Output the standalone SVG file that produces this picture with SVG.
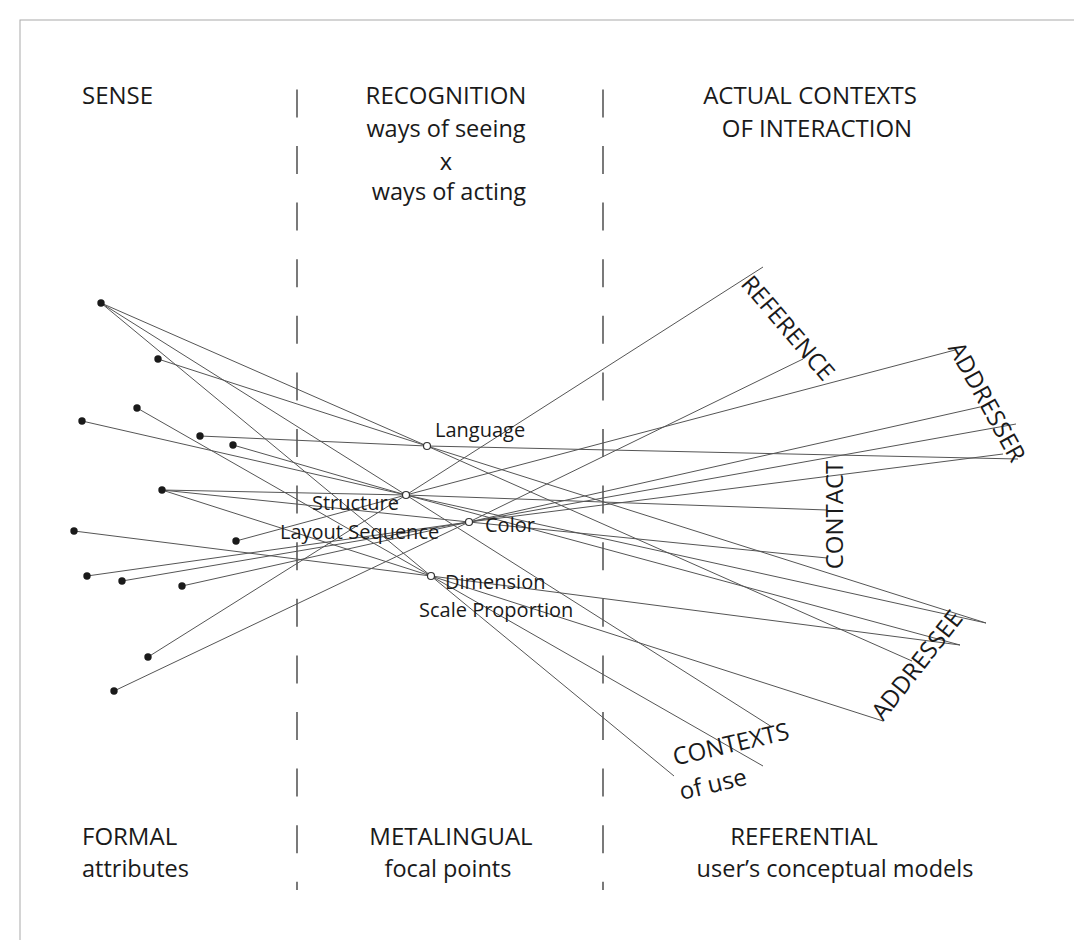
<svg xmlns="http://www.w3.org/2000/svg" width="1074" height="940" viewBox="0 0 1074 940">
<style>
.t{font-family:"Open Sans","Liberation Sans",sans-serif;fill:#1a1a1a}
.h{font-size:24px}
.hl{font-size:23.5px}
.s{font-size:20px}
.ln{stroke:#555;stroke-width:1;fill:none}
.dash{stroke:#333;stroke-width:1.3;stroke-dasharray:28 28.6;fill:none}
.dot{fill:#1a1a1a}
.fp{fill:#fff;stroke:#333;stroke-width:1.2}
</style>
<rect x="0" y="0" width="1074" height="940" fill="#fff"/>
<rect x="20" y="20" width="1080" height="960" fill="none" stroke="#aaa" stroke-width="1"/>
<g id="dividers">
<line class="dash" x1="297" y1="89.4" x2="297" y2="890"/>
<line class="dash" x1="603" y1="89.4" x2="603" y2="890"/>
</g>
<g id="headers" class="t">
<text class="h" x="82" y="104">SENSE</text>
<text class="h" x="446" y="104" text-anchor="middle">RECOGNITION</text>
<text class="hl" x="446" y="137" text-anchor="middle">ways of seeing</text>
<text class="hl" x="446" y="170" text-anchor="middle">x</text>
<text class="hl" x="449" y="200" text-anchor="middle">ways of acting</text>
<text class="h" x="810" y="104" text-anchor="middle">ACTUAL CONTEXTS</text>
<text class="h" x="817" y="137" text-anchor="middle">OF INTERACTION</text>
<text class="h" x="82" y="845">FORMAL</text>
<text class="hl" x="82" y="877">attributes</text>
<text class="h" x="451" y="845" text-anchor="middle">METALINGUAL</text>
<text class="hl" x="448" y="877" text-anchor="middle">focal points</text>
<text class="h" x="804" y="845" text-anchor="middle">REFERENTIAL</text>
<text class="hl" x="835" y="877" text-anchor="middle">user’s conceptual models</text>
</g>
<g id="connectors">
<polyline class="ln" points="101,303 427,446 912,661"/>
<polyline class="ln" points="101,303 406,495 772,727"/>
<polyline class="ln" points="101,303 431,576 674,776"/>
<polyline class="ln" points="158,359 427,446 986,623"/>
<polyline class="ln" points="82,421 406,495 986,623"/>
<polyline class="ln" points="137,408 431,576 763,766"/>
<polyline class="ln" points="200,436 427,446 1018,459"/>
<polyline class="ln" points="233,445 406,495 960,645"/>
<polyline class="ln" points="162,490 406,495 827,510"/>
<polyline class="ln" points="162,490 469,522 827,558"/>
<polyline class="ln" points="162,490 431,576 883,721"/>
<polyline class="ln" points="74,531 431,576 960,645"/>
<polyline class="ln" points="236,541 406,495 955,350"/>
<polyline class="ln" points="87,576 469,522 1003,454"/>
<polyline class="ln" points="122,581 469,522 1016,424"/>
<polyline class="ln" points="182,586 469,522 980,407"/>
<polyline class="ln" points="148,657 406,495 763,267"/>
<polyline class="ln" points="114,691 469,522 803,359"/>
</g>
<g id="formal-attributes">
<circle class="dot" cx="101" cy="303" r="3.7"/>
<circle class="dot" cx="158" cy="359" r="3.7"/>
<circle class="dot" cx="82" cy="421" r="3.7"/>
<circle class="dot" cx="137" cy="408" r="3.7"/>
<circle class="dot" cx="200" cy="436" r="3.7"/>
<circle class="dot" cx="233" cy="445" r="3.7"/>
<circle class="dot" cx="162" cy="490" r="3.7"/>
<circle class="dot" cx="74" cy="531" r="3.7"/>
<circle class="dot" cx="236" cy="541" r="3.7"/>
<circle class="dot" cx="87" cy="576" r="3.7"/>
<circle class="dot" cx="122" cy="581" r="3.7"/>
<circle class="dot" cx="182" cy="586" r="3.7"/>
<circle class="dot" cx="148" cy="657" r="3.7"/>
<circle class="dot" cx="114" cy="691" r="3.7"/>
</g>
<g id="language" class="t s">
<circle class="fp" cx="427" cy="446" r="3.5"/>
<text x="435" y="437">Language</text>
</g>
<g id="structure" class="t s">
<circle class="fp" cx="406" cy="495" r="3.5"/>
<text x="312" y="510">Structure</text>
<text x="280" y="539">Layout Sequence</text>
</g>
<g id="color" class="t s">
<circle class="fp" cx="469" cy="522" r="3.5"/>
<text x="485" y="532">Color</text>
</g>
<g id="dimension" class="t s">
<circle class="fp" cx="431" cy="576" r="3.5"/>
<text x="445" y="589">Dimension</text>
<text x="419" y="617">Scale Proportion</text>
</g>
<g id="reference" class="t h"><text transform="translate(788,328) rotate(49.5)" text-anchor="middle" dy="0.35em">REFERENCE</text></g>
<g id="addresser" class="t h"><text transform="translate(987,402) rotate(61)" text-anchor="middle" dy="0.35em">ADDRESSER</text></g>
<g id="contact" class="t h"><text transform="translate(835,515) rotate(-90)" text-anchor="middle" dy="0.35em">CONTACT</text></g>
<g id="addressee" class="t h"><text transform="translate(917,665) rotate(-52)" text-anchor="middle" dy="0.35em">ADDRESSEE</text></g>
<g id="contexts" class="t h">
<text transform="translate(731,744) rotate(-13)" text-anchor="middle" dy="0.35em">CONTEXTS</text>
<text transform="translate(713,784) rotate(-13)" text-anchor="middle" dy="0.35em">of use</text>
</g>
</svg>
